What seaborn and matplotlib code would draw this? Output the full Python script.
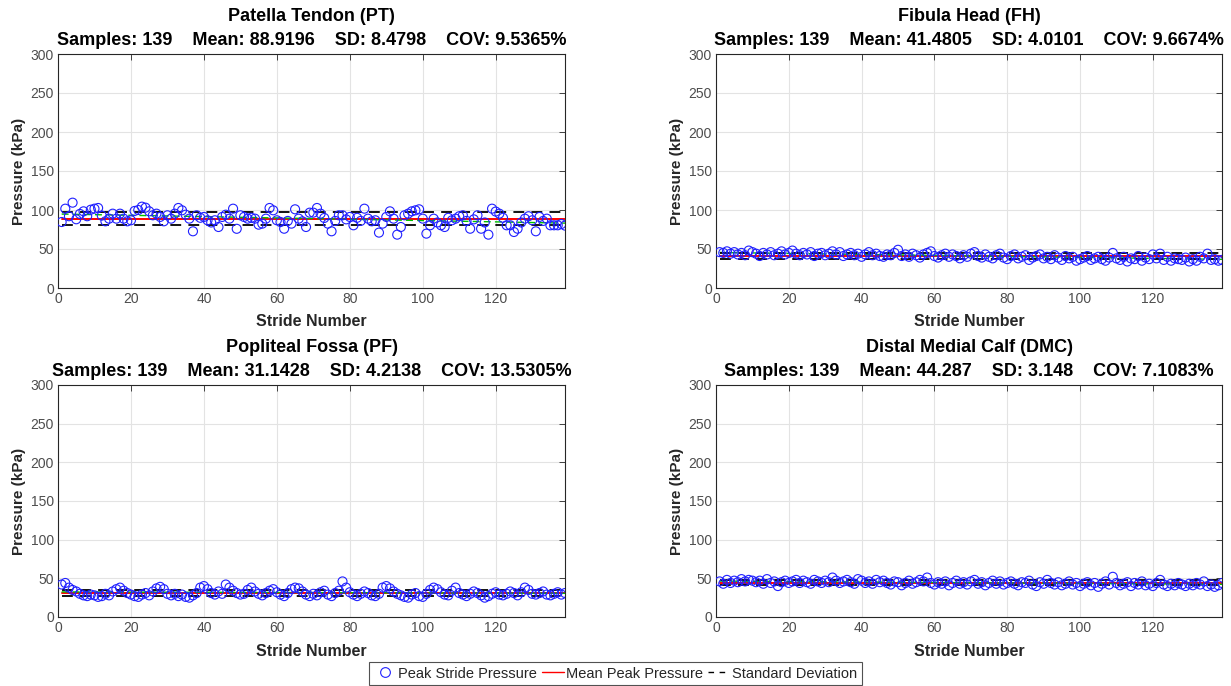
import numpy as np
import pandas as pd
import matplotlib
matplotlib.use("Agg")
import matplotlib.pyplot as plt
from matplotlib.lines import Line2D
import seaborn as sns

# ---- data -------------------------------------------------------------
sites = ["Patella Tendon (PT)", "Fibula Head (FH)",
         "Popliteal Fossa (PF)", "Distal Medial Calf (DMC)"]

pt = [84.6, 101.7, 92.0, 109.4, 88.1, 95.0, 98.3, 92.0, 100.4, 101.7,
      102.6, 92.8, 85.5, 88.9, 95.3, 88.9, 95.3, 88.9, 85.5, 86.8,
      98.8, 100.0, 104.3, 103.0, 98.3, 93.2, 95.3, 91.1, 85.5, 93.2,
      88.9, 95.3, 102.6, 99.6, 94.0, 88.9, 72.7, 93.2, 90.0, 91.1,
      86.8, 84.0, 86.8, 78.2, 91.1, 94.0, 88.9, 101.7, 75.9, 93.2,
      91.1, 88.9, 90.0, 88.9, 81.2, 82.5, 88.9, 102.6, 99.6, 86.8,
      84.6, 76.0, 86.0, 82.5, 100.9, 88.9, 85.5, 78.2, 96.6, 96.6,
      102.6, 95.3, 89.8, 82.5, 72.7, 86.0, 93.2, 93.2, 88.0, 91.1,
      80.4, 90.0, 86.0, 101.7, 88.9, 85.5, 86.8, 71.0, 82.5, 91.1,
      98.3, 88.9, 68.4, 78.2, 93.2, 95.3, 98.3, 99.6, 100.9, 88.9,
      69.7, 80.4, 88.9, 84.0, 80.4, 78.2, 90.0, 86.8, 88.9, 92.0,
      93.2, 86.0, 76.0, 88.0, 93.2, 76.0, 84.0, 68.4, 101.7, 98.0,
      95.3, 90.0, 80.4, 80.4, 71.8, 76.0, 84.0, 88.9, 92.0, 86.8,
      72.7, 91.1, 86.0, 88.9, 80.4, 80.4, 80.4, 82.0, 80.0]

fh = [46, 45, 47, 44, 46, 43, 45, 42, 48, 46,
      44, 41, 45, 43, 46, 42, 44, 47, 43, 45,
      48, 44, 42, 45, 43, 46, 41, 44, 45, 42,
      44, 47, 43, 46, 41, 43, 45, 42, 44, 40,
      43, 46, 42, 44, 41, 40, 43, 42, 45, 49,
      41, 43, 40, 44, 42, 39, 43, 45, 47, 41,
      39, 42, 44, 40, 43, 41, 38, 42, 40, 44,
      46, 41, 39, 43, 40, 38, 42, 44, 39, 37,
      41, 43, 38, 40, 42, 36, 39, 41, 43, 38,
      40, 37, 42, 39, 36, 41, 38, 40, 35, 37,
      39, 41, 36, 38, 40, 37, 35, 39, 45, 38,
      36, 40, 34, 38, 37, 41, 35, 39, 37, 43,
      38, 44, 36, 40, 35, 38, 37, 36, 39, 34,
      37, 35, 40, 38, 44, 36, 37, 35, 36]

pf = [42, 44, 38, 35, 33, 30, 28, 27, 29, 28,
      26, 27, 30, 28, 33, 36, 38, 34, 31, 29,
      27, 26, 29, 31, 28, 33, 37, 39, 36, 30,
      28, 30, 27, 29, 26, 25, 28, 31, 38, 40,
      36, 31, 29, 33, 30, 42, 38, 34, 31, 29,
      30, 35, 38, 33, 30, 28, 31, 34, 36, 32,
      29, 27, 31, 36, 38, 37, 33, 29, 27, 30,
      28, 32, 34, 29, 27, 31, 34, 46, 38, 32,
      29, 27, 30, 33, 31, 28, 27, 30, 38, 40,
      37, 33, 30, 28, 26, 25, 29, 31, 27, 26,
      30, 35, 38, 36, 32, 29, 28, 34, 38, 31,
      29, 27, 30, 33, 31, 28, 25, 27, 30, 32,
      29, 28, 30, 33, 31, 28, 32, 38, 35, 30,
      29, 31, 33, 29, 28, 30, 32, 29, 31]

dmc = [46, 43, 48, 44, 47, 45, 49, 46, 48, 47,
       45, 47, 43, 49, 44, 46, 40, 45, 47, 44,
       46, 48, 44, 47, 45, 43, 48, 46, 44, 47,
       45, 51, 47, 44, 46, 48, 45, 43, 49, 47,
       44, 46, 43, 48, 45, 47, 44, 42, 46, 45,
       41, 44, 47, 43, 45, 48, 46, 51, 44, 42,
       45, 43, 46, 41, 44, 47, 43, 45, 42, 46,
       48, 43, 45, 41, 44, 47, 43, 46, 42, 44,
       46, 43, 41, 45, 44, 47, 42, 40, 45, 43,
       48, 44, 42, 45, 41, 43, 46, 42, 44, 40,
       43, 45, 41, 44, 39, 43, 46, 42, 52, 44,
       41, 43, 45, 40, 44, 42, 46, 41, 43, 40,
       44, 48, 42, 40, 43, 41, 44, 42, 40, 43,
       41, 44, 42, 46, 40, 42, 39, 41, 44]

n_samples = [139, 139, 139, 139]
means = [88.9196, 41.4805, 31.1428, 44.287]
sds = [8.4798, 4.0101, 4.2138, 3.148]
covs = ["9.5365", "9.6674", "13.5305", "7.1083"]
mean_txt = ["88.9196", "41.4805", "31.1428", "44.287"]
sd_txt = ["8.4798", "4.0101", "4.2138", "3.148"]

series = [pt, fh, pf, dmc]

# ---- figure -----------------------------------------------------------
sns.set_theme(style="whitegrid")
plt.rcParams["font.family"] = ["Liberation Sans", "DejaVu Sans"]

W, H = 1231, 686
fig = plt.figure(figsize=(W / 100, H / 100), dpi=100)

# axes boxes in pixels: (left, top, right, bottom)
boxes = [(58, 54, 565, 288), (716, 54, 1222, 288),
         (58, 385, 565, 617), (716, 385, 1222, 617)]

tick_col = "#4d4d4d"
for i, (l, t, r, b) in enumerate(boxes):
    ax = fig.add_axes([l / W, 1 - b / H, (r - l) / W, (b - t) / H])
    vals = np.asarray(series[i], dtype=float)
    stride = np.arange(1, len(vals) + 1)
    df = pd.DataFrame({"Stride Number": stride, "Pressure": vals})

    m, s = means[i], sds[i]
    # trend of peak pressure over the session
    coef = np.polyfit(stride, vals, 1)
    trend = np.polyval(coef, stride)

    ax.plot(stride, np.full(len(stride), m), color="red", lw=1.4, zorder=3)
    ax.plot(stride, trend, color="#00c000", lw=1.0, ls=(0, (5, 3)), zorder=3)
    for yv in (m + s, m - s):
        ax.plot(stride, np.full(len(stride), yv), color="black", lw=1.3,
                ls=(0, (6, 4)), zorder=3)
    sns.scatterplot(data=df, x="Stride Number", y="Pressure", ax=ax,
                    marker="o", s=42, facecolor="none", edgecolor="#2020ff",
                    linewidth=0.8, zorder=4, legend=False)

    ax.set_xlim(0, 139)
    ax.set_ylim(0, 300)
    ax.set_xticks(np.arange(0, 121, 20))
    ax.set_yticks(np.arange(0, 301, 50))
    ax.grid(True, color="#e3e3e3", lw=0.8)
    ax.set_facecolor("white")
    for sp in ax.spines.values():
        sp.set_color("#262626")
        sp.set_linewidth(0.8)
        sp.set_visible(True)
    ax.tick_params(axis="both", which="both", direction="in", length=4,
                   width=0.6, color="#262626", top=True, right=True,
                   labelsize=10, labelcolor=tick_col, pad=3)
    ax.set_xlabel("Stride Number", fontsize=11.5, fontweight="bold",
                  color="#262626", labelpad=6)
    ax.set_ylabel("Pressure (kPa)", fontsize=11, fontweight="bold",
                  color="#262626", labelpad=3)
    title = (f"{sites[i]}\nSamples: {n_samples[i]}    Mean: {mean_txt[i]}    "
             f"SD: {sd_txt[i]}    COV: {covs[i]}%")
    ax.set_title(title, fontsize=13, fontweight="bold", color="black",
                 linespacing=1.55, pad=6.5)

handles = [
    Line2D([], [], marker="o", ls="none", markerfacecolor="none",
           markeredgecolor="#2020ff", markersize=7, markeredgewidth=0.8),
    Line2D([], [], color="red", lw=1.0),
    Line2D([], [], color="black", lw=1.0, ls=(0, (4, 4))),
]
labels = ["Peak Stride Pressure", "Mean Peak Pressure", "Standard Deviation"]
leg = fig.legend(handles, labels, loc="lower center", ncol=3,
                 bbox_to_anchor=(0.5, 0.0015), frameon=True, fancybox=False,
                 fontsize=10.5, handlelength=1.5, handletextpad=0.15,
                 columnspacing=0.35, borderpad=0.3, borderaxespad=0.0)
leg.get_frame().set_edgecolor("#262626")
leg.get_frame().set_linewidth(0.8)
for txt in leg.get_texts():
    txt.set_color("#262626")

fig.savefig("out.png", dpi=100)
